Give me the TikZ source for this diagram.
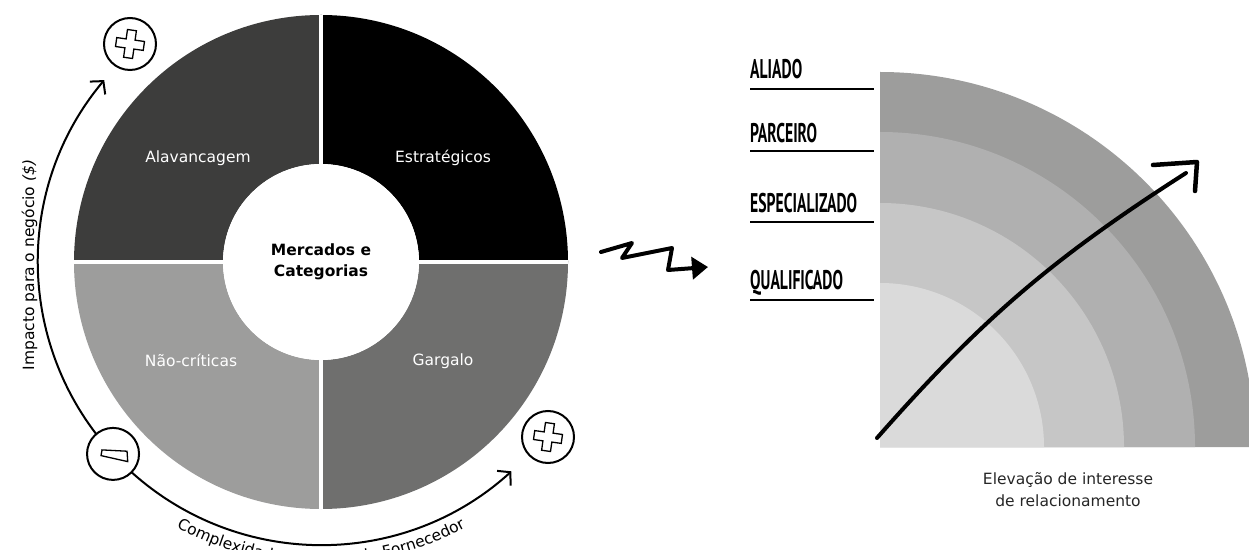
\documentclass[tikz,border=0pt]{standalone}
\usepackage{fontspec}
\setmainfont{DejaVu Sans}
\newfontfamily\tagfont[FakeStretch=0.58]{PT Sans}
\usetikzlibrary{arrows.meta, decorations.text, calc}
\definecolor{alavgray}{HTML}{3D3D3C}
\definecolor{garggray}{HTML}{6F6F6E}
\definecolor{naogray}{HTML}{9D9D9C}
\definecolor{ringA}{HTML}{DADADA}
\definecolor{ringB}{HTML}{C6C6C6}
\definecolor{ringC}{HTML}{B0B0B0}
\definecolor{ringD}{HTML}{9D9D9C}

\begin{document}
\begin{tikzpicture}[x=1pt, y=1pt,
  quad/.style={font=\fontsize{15.5}{18}\selectfont, text=white},
  sign/.style={draw, circle, line width=2pt, fill=white, minimum size=52pt, inner sep=0pt},
  tag/.style={font=\tagfont\bfseries\fontsize{27}{27}\selectfont, anchor=base west, inner sep=0pt},
  txt/.style={font=\fontsize{15.5}{22}\selectfont, align=center},
  barb/.style={line width=2pt, {Straight Barb[length=9pt,width=20pt]}-{Straight Barb[length=9pt,width=20pt]}},
  pluscross/.pic={\draw[line width=1.3pt, rotate=-8] (-4.5,14) -- (4.5,14) -- (4.5,4.5) -- (14,4.5) -- (14,-4.5) -- (4.5,-4.5) -- (4.5,-14) -- (-4.5,-14) -- (-4.5,-4.5) -- (-14,-4.5) -- (-14,4.5) -- (-4.5,4.5) -- cycle;}
]
\useasboundingbox (0,0) rectangle (1249,549);

% Matrix wheel
\coordinate (c1) at (321,287);
\foreach \a/\col in {0/black, 90/alavgray, 180/naogray, 270/garggray}
  \fill[\col] ($(c1)+(\a:247)$) arc[start angle=\a, delta angle=90, radius=247]
    -- ($(c1)+(\a+90:98)$) arc[start angle=\a+90, delta angle=-90, radius=98] -- cycle;
\draw[white, line width=4pt] ($(c1)+(-247,0)$) -- ($(c1)+(247,0)$);
\draw[white, line width=4pt] ($(c1)+(0,-247)$) -- ($(c1)+(0,247)$);
\fill[white] (c1) circle[radius=98];

\node[quad] (alav) at (198,391) {Alavancagem};
\node[quad] (estr) at (443,391) {Estratégicos};
\node[quad] (naocrit) at (191,189) {Não-críticas};
\node[quad] (garg) at (443,188) {Gargalo};
\node[txt, font=\bfseries\fontsize{15.5}{21}\selectfont] (mercados) at (c1) {Mercados e\\Categorias};

% Axes
\draw[barb] ($(c1)+(140:283)$) arc[start angle=140, end angle=312.3, radius=283];
\node[txt, rotate=90, anchor=base] (impacto) at (34,284) {Impacto para o negócio \textit{(\$)}};
\path[decorate, decoration={text along path, text align=center,
  text={|\fontsize{15.5}{18}\selectfont|Complexidade do mercado Fornecedor}}]
  ($(c1)+(235:302)$) arc[start angle=235, end angle=305, radius=302];

\node[sign] (minus) at ($(c1)+(222.7:283)$) {};
\draw[line width=1.3pt] (minus) ++(-11,4) -- ++(25,-1.3) -- ++(0.7,-10.4) -- ++(-26.7,6) -- cycle;
\node[sign] (plusA) at (130,505) {};
\pic at (plusA) {pluscross};
\node[sign] (plusB) at (548,112) {};
\pic at (plusB) {pluscross};

% Zigzag
\draw[line width=4pt, line join=round, line cap=round, -{Triangle[length=16pt, width=22pt]}]
  (601,297) -- (632,306) -- (622,291) -- (672,301) -- (668,279) -- (708,282);

% Relationship levels
\coordinate (c2) at (880,102);
\foreach \r/\col in {375/ringD, 315/ringC, 244/ringB, 164/ringA}
  \fill[\col] (c2) -- ++(\r,0) arc[start angle=0, end angle=90, radius=\r] -- cycle;

\foreach \t/\yb/\yl in {ALIADO/470/460, PARCEIRO/406/398, ESPECIALIZADO/336/327, QUALIFICADO/259/249}{
  \node[tag] (\t) at (750,\yb) {\t};
  \draw[line width=1.5pt] (750,\yl) -- (874,\yl);
}

\coordinate (rise0) at (877,111);
\coordinate (rise1) at (1186,376);
\draw[line width=4pt, line cap=round] (rise0) to[bend left=8] (rise1);
\draw[line width=4.5pt, line cap=round, line join=round] (1153,384) -- (1197,387) -- (1195,358);

\node[txt, text=black!85] (elev) at (1068,59) {Elevação de interesse\\de relacionamento};
\end{tikzpicture}
\end{document}
